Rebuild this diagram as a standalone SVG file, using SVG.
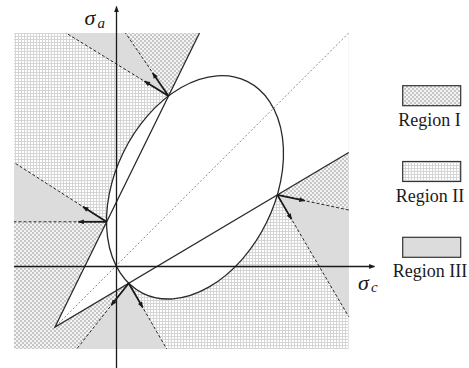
<svg xmlns="http://www.w3.org/2000/svg" width="469" height="368" viewBox="0 0 469 368">
<style>
.ln{fill:none;stroke:#2a2a2a;stroke-width:1.3}
.dash{fill:none;stroke:#2a2a2a;stroke-width:1;stroke-dasharray:3 2}
.dot{fill:none;stroke:#8a8a8a;stroke-width:1;stroke-dasharray:2 2}
.arr{fill:none;stroke:#1a1a1a;stroke-width:1.8;marker-end:url(#ah)}
.ax{fill:none;stroke:#1a1a1a;stroke-width:1.3;marker-end:url(#axh)}
.r1{fill:url(#check)}
.r2{fill:url(#grid)}
.r3{fill:#dcdcdc}
.lg{stroke:#333;stroke-width:1.2}
.lbl{font-family:'Liberation Serif','DejaVu Serif',serif;font-size:18px;fill:#1a1a1a;text-anchor:middle}
.math{font-family:'Liberation Serif','DejaVu Serif',serif;font-style:italic;fill:#1a1a1a}
</style>
<defs>
<pattern id="grid" patternUnits="userSpaceOnUse" width="3" height="3">
<rect width="3" height="3" fill="#fff"/>
<path d="M0 0.5H3M0.5 0V3" stroke="#d5d5d5" stroke-width="1"/>
</pattern>
<pattern id="check" patternUnits="userSpaceOnUse" width="4" height="4">
<rect width="4" height="4" fill="#f4f4f4"/>
<rect width="2" height="2" fill="#c6c6c6"/>
<rect x="2" y="2" width="2" height="2" fill="#c6c6c6"/>
</pattern>
<marker id="ah" viewBox="0 0 10 10" refX="9" refY="5" markerWidth="7" markerHeight="6" markerUnits="userSpaceOnUse" orient="auto">
<path d="M0,1 L10,5 L0,9 z" fill="#1a1a1a"/>
</marker>
<marker id="axh" viewBox="0 0 10 10" refX="9" refY="5" markerWidth="8" markerHeight="6" markerUnits="userSpaceOnUse" orient="auto">
<path d="M0,1 L10,5 L0,9 z" fill="#1a1a1a"/>
</marker>
</defs>

<g id="regions">
<rect id="region2-bg" class="r2" x="14" y="33" width="334.7" height="316"/>
<polygon id="regionI-A" class="r1" points="168.5,96 199.5,33 125.5,33"/>
<polygon id="regionIII-A" class="r3" points="168.5,96 125.5,33 66,33"/>
<polygon id="regionIII-B" class="r3" points="106.5,221.8 14,162.5 14,221.8"/>
<polygon id="regionI-BD" class="r1" points="106.5,221.8 14,221.8 14,349 76.7,349 128.7,283.2 55,327"/>
<polygon id="regionIII-D" class="r3" points="128.7,283.2 76.7,349 166.7,349"/>
<polygon id="regionI-C" class="r1" points="277.3,194.9 348.7,152.5 348.7,210"/>
<polygon id="regionIII-C" class="r3" points="277.3,194.9 348.7,210 348.7,316.7"/>
<polygon id="cone" fill="#fff" points="55,327 199.5,33 348.7,33 348.7,152.5"/>
<ellipse id="ellipse-fill" fill="#fff" cx="195" cy="187.35" rx="118.08" ry="79.72" transform="rotate(-63.82 195 187.35)"/>
</g>

<g id="connectors">
<line class="dot" x1="56" y1="326" x2="348.7" y2="33"/>
<line class="dash" x1="168.5" y1="96" x2="125.5" y2="33"/>
<line class="dash" x1="168.5" y1="96" x2="66" y2="33"/>
<line class="dash" x1="106.5" y1="221.8" x2="14" y2="162.5"/>
<line class="dash" x1="106.5" y1="221.8" x2="14" y2="221.8"/>
<line class="dash" x1="128.7" y1="283.2" x2="76.7" y2="349"/>
<line class="dash" x1="128.7" y1="283.2" x2="166.7" y2="349"/>
<line class="dash" x1="277.3" y1="194.9" x2="348.7" y2="210"/>
<line class="dash" x1="277.3" y1="194.9" x2="348.7" y2="316.7"/>
<polyline class="ln" points="199.5,33 55,327 348.7,152.5"/>
<ellipse class="ln" cx="195" cy="187.35" rx="118.08" ry="79.72" transform="rotate(-63.82 195 187.35)"/>
<line class="ax" x1="116.5" y1="368" x2="116.5" y2="6.5"/>
<line class="ax" x1="14" y1="266.5" x2="374.5" y2="266.5"/>
<line class="arr" x1="168.5" y1="96" x2="152.7" y2="72.9"/>
<line class="arr" x1="168.5" y1="96" x2="144.6" y2="81.3"/>
<line class="arr" x1="106.5" y1="221.8" x2="78.5" y2="221.8"/>
<line class="arr" x1="106.5" y1="221.8" x2="83" y2="206.7"/>
<line class="arr" x1="128.7" y1="283.2" x2="111.3" y2="305.2"/>
<line class="arr" x1="128.7" y1="283.2" x2="142.7" y2="307.4"/>
<line class="arr" x1="277.3" y1="194.9" x2="304.7" y2="200.7"/>
<line class="arr" x1="277.3" y1="194.9" x2="291.5" y2="219.1"/>
</g>

<g id="axis-labels">
<text class="math" x="84.5" y="25" font-size="22">σ</text>
<text class="math" x="97.5" y="27.5" font-size="15">a</text>
<text class="math" x="358" y="289.5" font-size="22">σ</text>
<text class="math" x="371" y="291.5" font-size="15">c</text>
</g>

<g id="legend-regionI">
<rect class="r1 lg" x="402.7" y="85.7" width="58" height="20"/>
<text class="lbl" x="429.5" y="125.5">Region I</text>
</g>
<g id="legend-regionII">
<rect class="r2 lg" x="402.7" y="161.5" width="58" height="20"/>
<text class="lbl" x="430" y="201.5">Region II</text>
</g>
<g id="legend-regionIII">
<rect class="r3 lg" x="402.7" y="237.3" width="58" height="20"/>
<text class="lbl" x="430" y="277.3">Region III</text>
</g>
</svg>
